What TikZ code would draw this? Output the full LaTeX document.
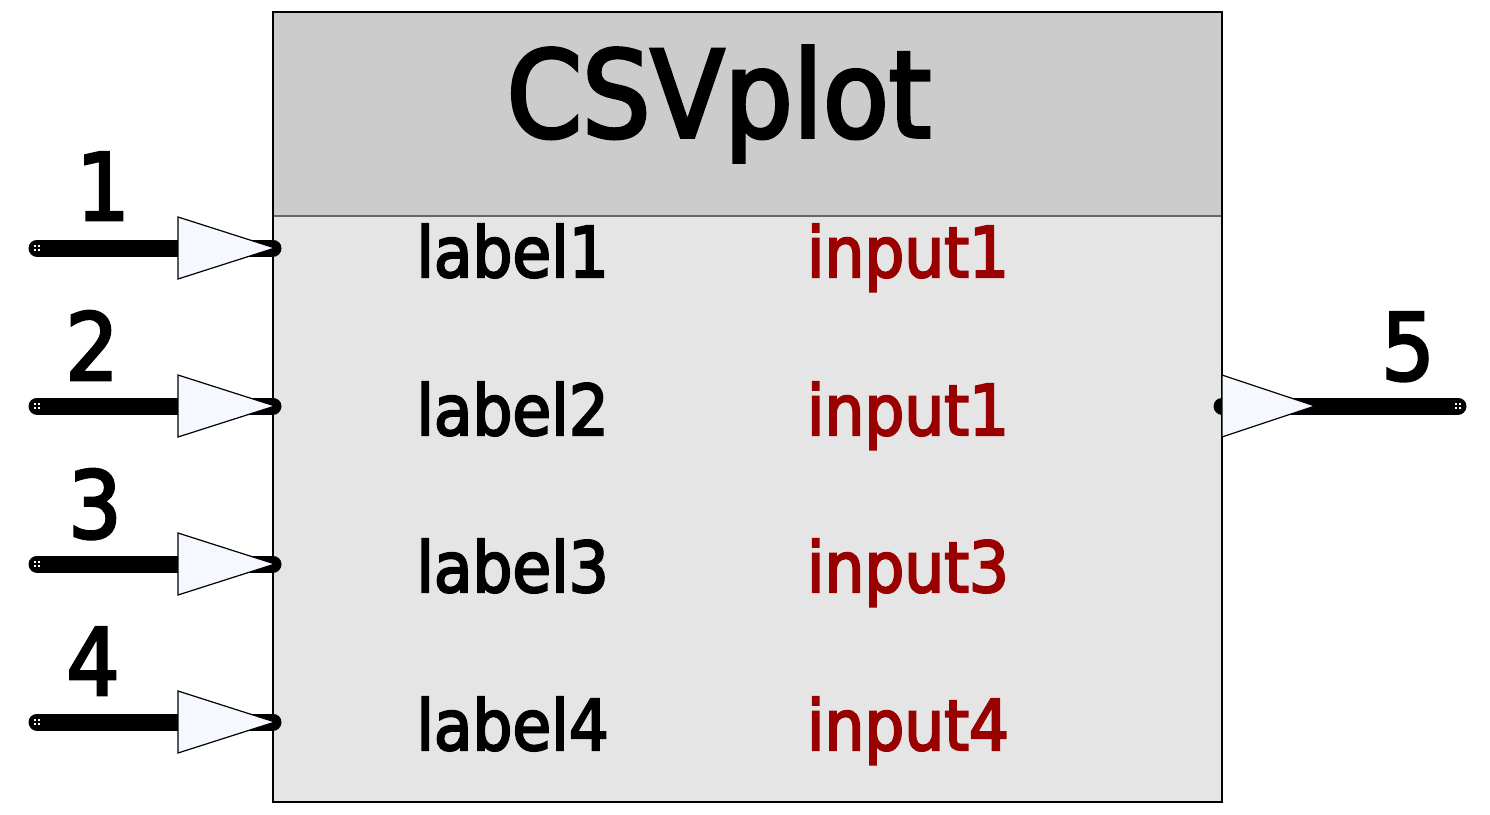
\documentclass[tikz,border=0pt]{standalone}
\usepackage{fontspec}
\setmainfont{DejaVu Sans Condensed}[UprightFeatures={FakeBold=3}]
\definecolor{headgray}{HTML}{CCCCCC}
\definecolor{bodygray}{HTML}{E5E5E5}
\definecolor{inred}{HTML}{990000}
\definecolor{tipfill}{HTML}{F5F9FF}
\tikzset{
  pinline/.style={line width=17pt,line cap=round},
  pintip/.style={draw=black,line width=1.2pt,fill=tipfill},
  pinnum/.style={anchor=base,inner sep=0pt,font=\fontsize{93}{100}\selectfont},
  lbl/.style={anchor=base east,inner sep=0pt,font=\fontsize{70}{80}\selectfont},
  inp/.style={anchor=base,inner sep=0pt,text=inred,font=\fontsize{70}{80}\selectfont},
  dot/.style={fill=white}
}
\begin{document}
\begin{tikzpicture}[x=1pt,y=-1pt]
    \useasboundingbox (0,0) rectangle (1490,814);
    \fill[bodygray] (273,216) rectangle (1222,802);
    \fill[headgray] (273,12) rectangle (1222,216);
    \draw[gray!80!black,line width=1.2pt] (273,216) -- (1222,216);
    \draw[line width=1.2pt] (273,12) rectangle (1222,802);
    \node[anchor=base,inner sep=0pt,font=\fontsize{120}{130}\selectfont] (title) at (719,137) {CSVplot};
    \coordinate (e1) at (37,248);
    \coordinate (p1) at (273,248);
    \coordinate (e2) at (37,406);
    \coordinate (p2) at (273,406);
    \coordinate (e3) at (37,564);
    \coordinate (p3) at (273,564);
    \coordinate (e4) at (37,722);
    \coordinate (p4) at (273,722);
    \coordinate (p5) at (1222,406);
    \coordinate (e5) at (1458,406);
    \draw[pinline] (e1) -- (p1);
    \draw[pinline] (e2) -- (p2);
    \draw[pinline] (e3) -- (p3);
    \draw[pinline] (e4) -- (p4);
    \draw[pinline] (p5) -- (e5);
    \foreach \e in {e1,e2,e3,e4,e5} {
      \fill[dot] ([shift={(-3,-3)}]\e) rectangle ++(2,2);
      \fill[dot] ([shift={(1,-3)}]\e) rectangle ++(2,2);
      \fill[dot] ([shift={(-3,1)}]\e) rectangle ++(2,2);
      \fill[dot] ([shift={(1,1)}]\e) rectangle ++(2,2);
    }
    \draw[pintip] ([shift={(-95,-31)}]p1) -- ([shift={(-95,31)}]p1) -- ([shift={(2,0)}]p1) -- cycle;
    \draw[pintip] ([shift={(-95,-31)}]p2) -- ([shift={(-95,31)}]p2) -- ([shift={(2,0)}]p2) -- cycle;
    \draw[pintip] ([shift={(-95,-31)}]p3) -- ([shift={(-95,31)}]p3) -- ([shift={(2,0)}]p3) -- cycle;
    \draw[pintip] ([shift={(-95,-31)}]p4) -- ([shift={(-95,31)}]p4) -- ([shift={(2,0)}]p4) -- cycle;
    \draw[pintip] ([shift={(0,-31)}]p5) -- ([shift={(0,31)}]p5) -- ([shift={(93,0)}]p5) -- cycle;
    \node[pinnum] (n1) at (103,220) {1};
    \node[pinnum] (n2) at (92,380) {2};
    \node[pinnum] (n3) at (95,538) {3};
    \node[pinnum] (n4) at (93,695) {4};
    \node[pinnum] (n5) at (1408,380) {5};
    \node[lbl] (l1) at (609,277) {label1};
    \node[lbl] (l2) at (609,435) {label2};
    \node[lbl] (l3) at (609,592) {label3};
    \node[lbl] (l4) at (609,750) {label4};
    \node[inp] (i1) at (908,277) {input1};
    \node[inp] (i2) at (908,435) {input1};
    \node[inp] (i3) at (908,592) {input3};
    \node[inp] (i4) at (908,750) {input4};
\end{tikzpicture}
\end{document}
